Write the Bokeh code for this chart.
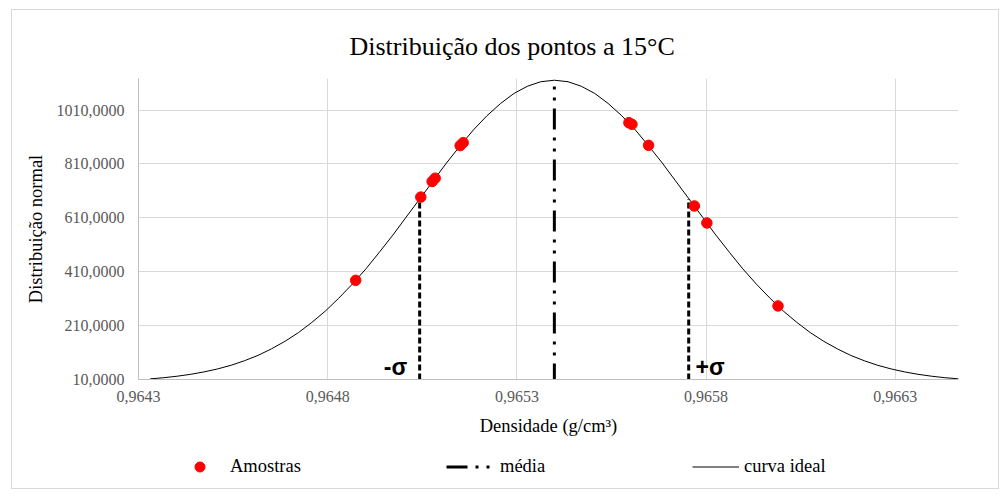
from bokeh.plotting import figure
from bokeh.layouts import column
from bokeh.models import Range1d, FixedTicker, Label, Legend, LegendItem
from bokeh.embed import file_html
from bokeh.resources import INLINE

# ---------------- data ----------------
title_text = "Distribuição dos pontos a 15°C"
x_title = "Densidade (g/cm³)"
y_title = "Distribuição normal"

x_ticks = [0.9643, 0.9648, 0.9653, 0.9658, 0.9663]
x_tick_labels = ["0,9643", "0,9648", "0,9653", "0,9658", "0,9663"]
y_ticks = [10, 210, 410, 610, 810, 1010]
y_tick_labels = ["10,0000", "210,0000", "410,0000", "610,0000", "810,0000", "1010,0000"]
x_min, x_max = 0.9643, 0.966467
y_min, y_max = 10, 1127

# ideal curve
curve_x = [0.964331, 0.964367, 0.964402, 0.964438, 0.964473, 0.964509, 0.964545,
           0.964580, 0.964616, 0.964651, 0.964687, 0.964723, 0.964758, 0.964794,
           0.964829, 0.964865, 0.964901, 0.964936, 0.964972, 0.965007, 0.965043,
           0.965079, 0.965114, 0.965150, 0.965185, 0.965221, 0.965257, 0.965292,
           0.965328, 0.965363, 0.965399, 0.965435, 0.965470, 0.965506, 0.965541,
           0.965577, 0.965613, 0.965648, 0.965684, 0.965719, 0.965755, 0.965791,
           0.965826, 0.965862, 0.965897, 0.965933, 0.965969, 0.966004, 0.966040,
           0.966075, 0.966111, 0.966147, 0.966182, 0.966218, 0.966253, 0.966289,
           0.966325, 0.966360, 0.966396, 0.966431, 0.966467]
curve_y = [12.4, 16.7, 22.2, 29.3, 38.1, 49.2, 62.9, 79.6, 99.6, 123.5, 151.7,
           184.3, 221.8, 264.2, 311.5, 363.8, 420.6, 481.4, 545.5, 611.9, 679.7,
           747.4, 813.7, 877.1, 936.1, 988.9, 1034.4, 1071.3, 1098.4, 1115.0, 1120.6,
           1115.0, 1098.4, 1071.3, 1034.4, 988.9, 936.1, 877.1, 813.7, 747.4, 679.7,
           611.9, 545.5, 481.4, 420.6, 363.8, 311.5, 264.2, 221.8, 184.3, 151.7,
           123.5, 99.6, 79.6, 62.9, 49.2, 38.1, 29.3, 22.2, 16.7, 12.4]

# samples
sample_x = [0.964874, 0.965046, 0.965076, 0.965084, 0.965150, 0.965158,
            0.965596, 0.965604, 0.965648, 0.965769, 0.965802, 0.965990]
sample_y = [378, 687, 745, 757, 878, 889, 963, 957, 879, 654, 591, 283]

mean_x = [0.965399]
mean_bottom = [10]
mean_top = [1120.6]
sigma_x = [0.965043, 0.965754]
sigma_bottom = [10, 10]
sigma_top = [680, 680]
sigma_labels = ["-σ", "+σ"]

legend_labels = ["Amostras", "média", "curva ideal"]

# ---------------- main figure ----------------
SERIF = "Liberation Serif"
p = figure(width=986, height=440, output_backend="svg", toolbar_location=None,
           x_range=Range1d(x_min, x_max), y_range=Range1d(y_min, y_max),
           min_border_left=126, min_border_right=40,
           min_border_top=68, min_border_bottom=71)
p.outline_line_color = None
p.background_fill_color = "white"
p.border_fill_color = "white"

p.title.text = title_text
p.title.align = "left"
p.title.offset = 211
p.title.standoff = 35
p.title.text_line_height = 1.0
p.title.text_font = SERIF
p.title.text_font_size = "26px"
p.title.text_font_style = "normal"
p.title.text_color = "#000000"

for ax, ticks, labels in ((p.xaxis, x_ticks, x_tick_labels), (p.yaxis, y_ticks, y_tick_labels)):
    ax.ticker = FixedTicker(ticks=ticks)
    ax.major_label_overrides = dict(zip(ticks, labels))
    ax.axis_line_color = "#bfbfbf"
    ax.major_tick_line_color = None
    ax.minor_tick_line_color = None
    ax.major_tick_in = 0
    ax.major_tick_out = 0
    ax.major_label_text_font = SERIF
    ax.major_label_text_font_size = "16px"
    ax.major_label_text_color = "#595959"
    ax.axis_label_text_font = SERIF
    ax.axis_label_text_font_size = "18.5px"
    ax.axis_label_text_font_style = "normal"
    ax.axis_label_text_color = "#000000"

p.xaxis.axis_label = x_title
p.yaxis.axis_label = y_title
p.xaxis.major_label_standoff = 11
p.xaxis.axis_label_standoff = 11
p.yaxis.major_label_standoff = 14
p.yaxis.axis_label_standoff = 8

p.xgrid.grid_line_color = "#d9d9d9"
p.ygrid.grid_line_color = "#d9d9d9"

# curve
p.line(curve_x, curve_y, line_color="#000000", line_width=1)
# sigma lines
p.segment(x0=sigma_x, y0=sigma_bottom, x1=sigma_x, y1=sigma_top,
          line_color="#000000", line_width=3, line_dash="6 3")
# mean line
p.segment(x0=mean_x, y0=mean_bottom, x1=mean_x, y1=mean_top,
          line_color="#000000", line_width=3, line_dash="21 8 3 8 3 8", line_dash_offset=5)
# samples
p.scatter(sample_x, sample_y, size=10.5, color="#ff0000")

# sigma labels
p.add_layout(Label(x=sigma_x[0] - 0.000033, y=57, text=sigma_labels[0], text_align="right",
                   text_baseline="alphabetic", text_font="Liberation Sans",
                   text_font_style="bold", text_font_size="23px", text_color="#000000"))
p.add_layout(Label(x=sigma_x[1] + 0.000018, y=57, text=sigma_labels[1], text_align="left",
                   text_baseline="alphabetic", text_font="Liberation Sans",
                   text_font_style="bold", text_font_size="23px", text_color="#000000"))

# ---------------- legend strip ----------------
lg = figure(width=986, height=38, output_backend="svg", toolbar_location=None,
            x_range=Range1d(0, 1), y_range=Range1d(0, 1),
            x_axis_type=None, y_axis_type=None,
            min_border_left=0, min_border_right=0, min_border_top=0, min_border_bottom=0)
lg.outline_line_color = None
lg.grid.visible = False
lg.background_fill_color = "white"
lg.border_fill_color = "white"

# legend-only renderers: their single sample sits outside the strip's ranges
lg_pts = lg.scatter(x=[-5], y=[-5], size=10.5, color="#ff0000")
lg_mean = lg.line(x=[-5, -4], y=[-5, -5], line_color="#000000", line_width=3,
                  line_dash="21 8 3 8 3 8")
lg_curve = lg.line(x=[-5, -4], y=[-5, -5], line_color="#000000", line_width=1)


def make_legend(label, renderer, loc, gw, standoff):
    return Legend(items=[LegendItem(label=label, renderers=[renderer])],
                  location=loc, orientation="horizontal", glyph_width=gw, glyph_height=25,
                  label_height=25, label_standoff=standoff, padding=0, margin=0,
                  border_line_color=None, background_fill_alpha=0,
                  label_text_font=SERIF, label_text_font_size="18.5px",
                  label_text_color="#000000")


lg.add_layout(make_legend(legend_labels[0], lg_pts, (49, 9), 25, 18))
lg.add_layout(make_legend(legend_labels[1], lg_mean, (308, 9), 44, 10))
lg.add_layout(make_legend(legend_labels[2], lg_curve, (554, 9), 47, 5))

layout = column(p, lg, spacing=0)
layout.margin = (9, 0, 0, 11)
layout.styles = {"border": "1px solid #d9d9d9", "background-color": "white"}

open("out.html", "w").write(file_html(layout, INLINE))
